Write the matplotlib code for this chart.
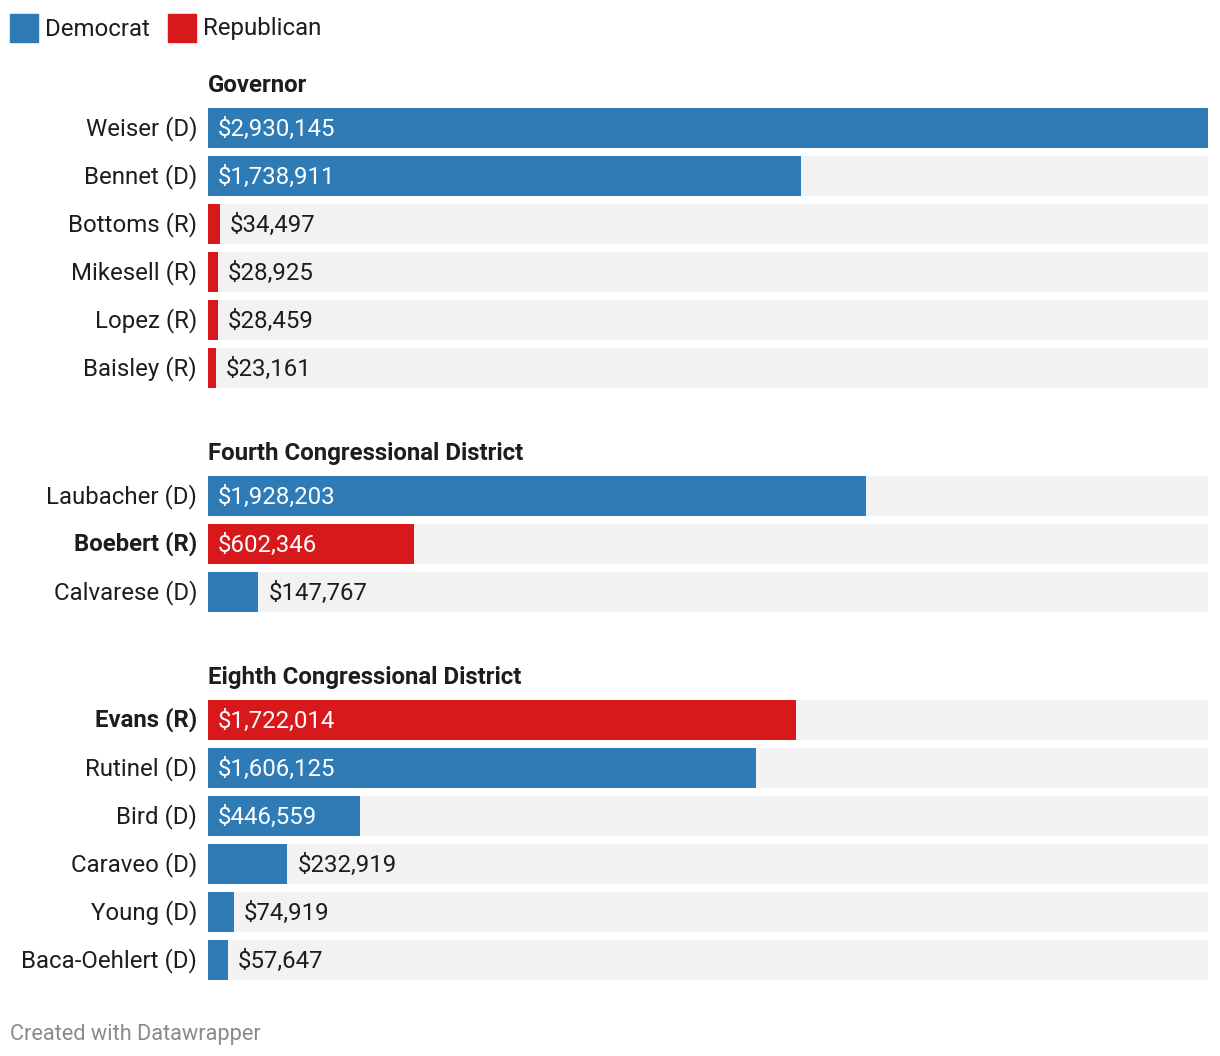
import matplotlib.pyplot as plt
from matplotlib.patches import Rectangle

# data
groups = ["Governor", "Fourth Congressional District", "Eighth Congressional District"]
gov_names = ["Weiser (D)", "Bennet (D)", "Bottoms (R)", "Mikesell (R)", "Lopez (R)", "Baisley (R)"]
gov_values = [2930145, 1738911, 34497, 28925, 28459, 23161]
cd4_names = ["Laubacher (D)", "Boebert (R)", "Calvarese (D)"]
cd4_values = [1928203, 602346, 147767]
cd8_names = ["Evans (R)", "Rutinel (D)", "Bird (D)", "Caraveo (D)", "Young (D)", "Baca-Oehlert (D)"]
cd8_values = [1722014, 1606125, 446559, 232919, 74919, 57647]
bold_names = ["Boebert (R)", "Evans (R)"]

BLUE = "#2e7bb6"
RED = "#d7191c"
GREY_BG = "#f2f2f2"
TXT = "#1d1d1d"
FS = 17.3

plt.rcParams['font.family'] = ['Roboto', 'DejaVu Sans']

W, H = 1220, 1056
fig = plt.figure(figsize=(W/100, H/100), dpi=100)
ax = fig.add_axes([208/W, 0, 1000/W, 1])
xmax = max(gov_values)
ax.set_xlim(0, xmax)
ax.set_ylim(H, 0)  # y axis in pixel rows, top to bottom
ax.axis('off')

row_pitch = 48; bar_h = 40
y = 128
for title, names, values in zip(groups, [gov_names, cd4_names, cd8_names], [gov_values, cd4_values, cd8_values]):
    # group heading, baseline a bit above the first bar
    ax.annotate(title, xy=(0, y - 36), xytext=(0, 0), textcoords='offset pixels', fontsize=FS,
                fontweight='bold', color=TXT, ha='left', va='baseline')
    for n, v in zip(names, values):
        col = RED if "(R)" in n else BLUE
        ax.barh(y, xmax, height=bar_h, color=GREY_BG, zorder=1)
        ax.barh(y, v, height=bar_h, color=col, zorder=2)
        ax.annotate(n, xy=(0, y), xytext=(-11, -7), textcoords='offset pixels', ha='right', va='baseline',
                    fontsize=FS, color=TXT, fontweight='bold' if n in bold_names else 'normal')
        lab = f"${v:,}"
        if v > 300000:
            ax.annotate(lab, xy=(0, y), xytext=(10, -8), textcoords='offset pixels', ha='left', va='baseline',
                        fontsize=FS, color='white', zorder=3)
        else:
            ax.annotate(lab, xy=(v, y), xytext=(10, -8), textcoords='offset pixels', ha='left', va='baseline',
                        fontsize=FS, color=TXT, zorder=3)
        y += row_pitch
    y += 128 - row_pitch

# legend
for lbl, col, x0 in [("Democrat", BLUE, 10), ("Republican", RED, 168)]:
    fig.add_artist(Rectangle((x0/W, 1 - 42/H), 28/W, 28/H, transform=fig.transFigure, color=col))
    fig.text((x0 + 35)/W, 1 - 35.5/H, lbl, fontsize=FS, color=TXT, ha='left', va='baseline')

fig.text(10/W, 1 - 1040/H, "Created with Datawrapper", fontsize=15.7, color="#8a8a8a", ha='left', va='baseline')

fig.savefig("out.png", dpi=100, facecolor='white')
